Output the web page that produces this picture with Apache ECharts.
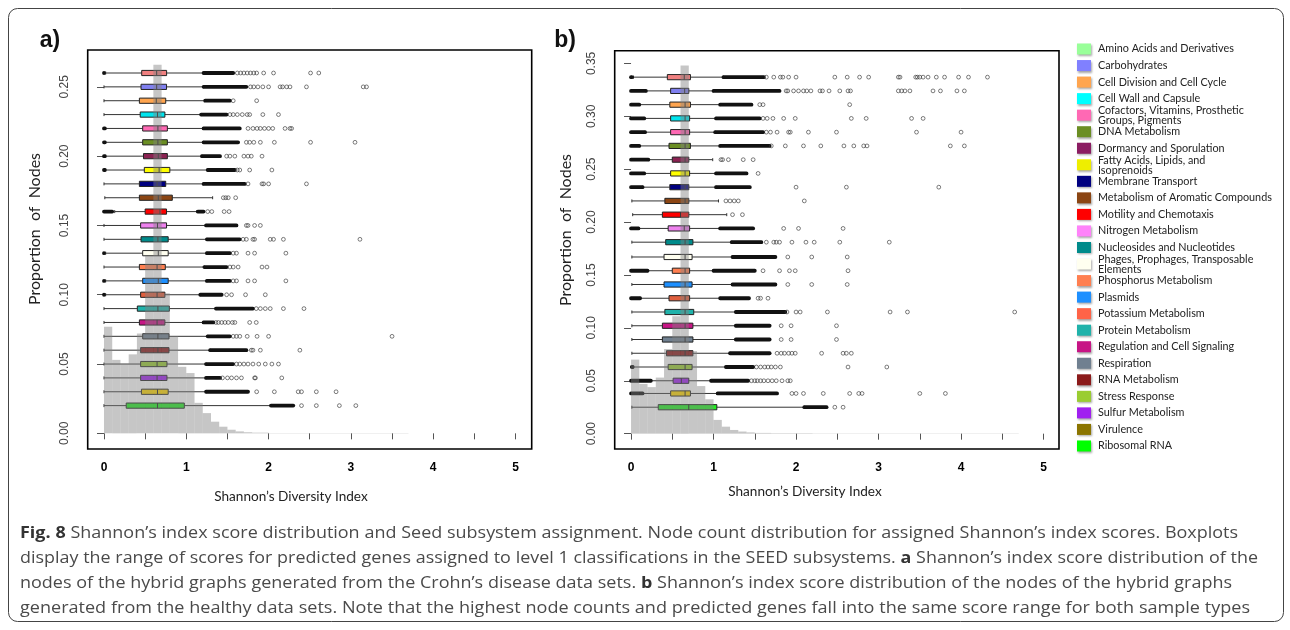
<!DOCTYPE html>
<html>
<head>
<meta charset="utf-8">
<script src="https://cdn.jsdelivr.net/npm/echarts@6/dist/echarts.min.js"></script>
<style>
  html, body { margin: 0; padding: 0; background: #fff; }
  #chart { width: 1290px; height: 630px; }
</style>
</head>
<body>
<div id="chart"></div>
<script>
// legend entries (SEED level 1 subsystems)
var categories = [
  'Amino Acids and Derivatives', 'Carbohydrates', 'Cell Division and Cell Cycle', 'Cell Wall and Capsule',
  'Cofactors, Vitamins, Prosthetic\nGroups, Pigments', 'DNA Metabolism', 'Dormancy and Sporulation',
  'Fatty Acids, Lipids, and\nIsoprenoids', 'Membrane Transport', 'Metabolism of Aromatic Compounds',
  'Motility and Chemotaxis', 'Nitrogen Metabolism', 'Nucleosides and Nucleotides',
  'Phages, Prophages, Transposable\nElements', 'Phosphorus Metabolism', 'Plasmids', 'Potassium Metabolism',
  'Protein Metabolism', 'Regulation and Cell Signaling', 'Respiration', 'RNA Metabolism', 'Stress Response',
  'Sulfur Metabolism', 'Virulence', 'Ribosomal RNA'
];
var legendColors = ['#99ff99', '#8080ff', '#ffa54f', '#00ffff', '#ff69b4', '#6b8e23', '#8b1c62', '#eeee00',
  '#000080', '#8b4513', '#ff0000', '#ff83fa', '#008b8b', '#fffff0', '#ff7f50', '#1e90ff', '#ff6347',
  '#20b2aa', '#c71585', '#708090', '#8b1a1a', '#9acd32', '#a020f0', '#8b7500', '#00ff00'];
var boxColors = ['#f08080', '#8080f0', '#ffa54f', '#00e5ee', '#ff69b4', '#6b8e23', '#8b2252', '#ffff00',
  '#000080', '#8b4513', '#ff0000', '#ee82ee', '#008b8b', '#fffff0', '#ff7f50', '#1e90ff', '#e0603f',
  '#20b2aa', '#c71585', '#708090', '#8b1a1a', '#9acd32', '#a020f0', '#ffd700', '#22ee22'];

var xTicks = [0, 0.5, 1, 1.5, 2, 2.5, 3, 3.5, 4, 4.5, 5];
var xLabels = [0, 1, 2, 3, 4, 5];
var yTicksA = [0, 0.05, 0.10, 0.15, 0.20, 0.25];
var yTicksB = [0, 0.05, 0.10, 0.15, 0.20, 0.25, 0.30, 0.35];

// ---- panel a (Crohn's disease) ----
var rowsA = [0.26, 0.25, 0.24, 0.23, 0.22, 0.21, 0.20, 0.19, 0.18, 0.17, 0.16, 0.15, 0.14,
  0.13, 0.12, 0.11, 0.10, 0.09, 0.08, 0.07, 0.06, 0.05, 0.04, 0.03, 0.02];
// [lower whisker, q1, median, q3, upper whisker]
var statsA = [
  [0.02, 0.458, 0.64, 0.761, 1.21], [0, 0.45, 0.64, 0.76, 1.21], [0, 0.43, 0.635, 0.75, 1.22],
  [0, 0.44, 0.65, 0.74, 1.18], [0.02, 0.47, 0.655, 0.77, 1.21], [0.02, 0.47, 0.655, 0.77, 1.21],
  [0.02, 0.48, 0.66, 0.77, 1.19], [0.02, 0.49, 0.67, 0.80, 1.26], [0, 0.43, 0.645, 0.75, 1.21],
  [0.01, 0.43, 0.66, 0.83, 1.32], [0.13, 0.50, 0.68, 0.76, 1.13], [0, 0.445, 0.65, 0.76, 1.24],
  [0, 0.45, 0.655, 0.78, 1.25], [0.02, 0.47, 0.66, 0.78, 1.25], [0, 0.43, 0.645, 0.745, 1.22],
  [0.02, 0.47, 0.66, 0.78, 1.25], [0.02, 0.445, 0.645, 0.74, 1.17], [0, 0.405, 0.655, 0.794, 1.36],
  [0, 0.43, 0.645, 0.74, 1.21], [0, 0.47, 0.655, 0.79, 1.26], [0, 0.445, 0.655, 0.79, 1.29],
  [0, 0.445, 0.645, 0.765, 1.24], [0, 0.445, 0.645, 0.765, 1.24], [0, 0.455, 0.65, 0.78, 1.24],
  [0, 0.27, 0.65, 0.976, 2.02]
];
// ranges packed with overlapping outlier circles
var denseA = [
  [[0, 0], [1.21, 1.57]], [[1.21, 1.73]], [[1.23, 1.53]], [[1.18, 1.49]], [[0, 0.01], [1.21, 1.65]],
  [[0, 0.01], [1.21, 1.63]], [[0, 0.01], [1.19, 1.41]], [[0, 0.01], [1.26, 1.59]], [[1.21, 1.71]],
  [], [[0, 0.1], [1.14, 1.21]], [[1.24, 1.61]], [[1.25, 1.65]], [[0, 0], [1.25, 1.53]],
  [[1.22, 1.49]], [[0, 0], [1.25, 1.53]], [[0, 0], [1.17, 1.43]], [[1.36, 1.81]], [[1.21, 1.33]],
  [[1.26, 1.53]], [[1.29, 1.73]], [[1.24, 1.57]], [[1.24, 1.41]], [[1.24, 1.75]], [[2.03, 2.3]]
];
var outA = [
  [1.62, 1.66, 1.70, 1.74, 1.78, 1.82, 1.855, 1.94, 2.06, 2.51, 2.61],
  [1.78, 1.82, 1.87, 1.93, 2.0, 2.14, 2.17, 2.22, 2.26, 2.46, 3.15, 3.19],
  [1.57, 1.855],
  [1.53, 1.57, 1.62, 1.68, 1.74, 1.77, 1.93, 2.12],
  [1.75, 1.81, 1.86, 1.9, 1.95, 2.0, 2.05, 2.2, 2.26, 2.28],
  [1.73, 1.77, 1.82, 1.9, 2.07, 2.51, 3.05],
  [1.49, 1.53, 1.59, 1.7, 1.75, 1.79, 1.92],
  [1.62, 1.65, 1.77, 2.04],
  [1.75, 1.92, 1.94, 2.0, 2.46],
  [1.45, 1.48, 1.51, 1.6],
  [1.26, 1.31, 1.46, 1.52],
  [1.73, 1.75, 1.83, 1.9],
  [1.69, 1.73, 1.81, 1.83, 2.02, 2.06, 2.18, 3.11],
  [1.57, 1.61, 1.75, 1.83, 2.21],
  [1.53, 1.57, 1.63, 1.92, 1.98],
  [1.57, 1.61, 1.75, 1.83, 2.21],
  [1.49, 1.55, 1.72, 1.96],
  [1.85, 1.9, 1.96, 2.02, 2.18, 2.43],
  [1.36, 1.39, 1.43, 1.47, 1.51, 1.56, 1.59, 1.77, 1.85],
  [1.57, 1.61, 1.65, 1.74, 1.86, 2.0, 3.5],
  [1.79, 1.81, 1.9, 2.38],
  [1.61, 1.65, 1.7, 1.75, 1.81, 1.88, 1.96, 2.04, 2.12],
  [1.44, 1.5, 1.55, 1.61, 1.67, 1.83, 1.84, 2.16],
  [1.855, 2.07, 2.36, 2.4, 2.58, 2.82],
  [2.4, 2.58, 2.86, 3.06]
];
// histogram bins [from, to, proportion]
var histA = [
  [0, 0.1, 0.077], [0.1, 0.2, 0.053], [0.2, 0.3, 0.050], [0.3, 0.4, 0.057], [0.4, 0.5, 0.072],
  [0.5, 0.6, 0.128], [0.6, 0.7, 0.266], [0.7, 0.8, 0.101], [0.8, 0.9, 0.070], [0.9, 1.0, 0.048],
  [1.0, 1.1, 0.0435], [1.1, 1.2, 0.022], [1.2, 1.3, 0.0146], [1.3, 1.4, 0.0084], [1.4, 1.5, 0.0048],
  [1.5, 1.6, 0.0026], [1.6, 1.7, 0.0014], [1.7, 1.8, 0.0008], [1.8, 2.0, 0.0005], [2.0, 2.5, 0.0003],
  [2.5, 3.7, 0.0002]
];

// ---- panel b (healthy) ----
var rowsB = [0.337, 0.324, 0.311, 0.298, 0.285, 0.272, 0.259, 0.246, 0.233, 0.220, 0.207, 0.194, 0.181,
  0.167, 0.154, 0.141, 0.128, 0.115, 0.102, 0.089, 0.076, 0.063, 0.050, 0.038, 0.025];
var statsB = [
  [0.03, 0.44, 0.645, 0.72, 1.12], [0.18, 0.48, 0.65, 0.70, 1.0], [0.1, 0.47, 0.655, 0.72, 1.08],
  [0.16, 0.48, 0.655, 0.71, 1.03], [0.17, 0.48, 0.655, 0.71, 1.02], [0.1, 0.46, 0.655, 0.72, 1.08],
  [0.21, 0.5, 0.655, 0.70, 0.99], [0.16, 0.48, 0.655, 0.71, 1.03], [0.14, 0.47, 0.655, 0.70, 1.03],
  [0.01, 0.41, 0.655, 0.70, 1.06], [0.02, 0.38, 0.60, 0.70, 1.16], [0.09, 0.45, 0.645, 0.71, 1.08],
  [0.01, 0.42, 0.655, 0.75, 1.22], [0.01, 0.40, 0.655, 0.74, 1.23], [0.2, 0.5, 0.655, 0.71, 1.0],
  [0.01, 0.40, 0.655, 0.74, 1.23], [0.11, 0.46, 0.655, 0.71, 1.08], [0.01, 0.41, 0.655, 0.76, 1.27],
  [0.01, 0.38, 0.655, 0.75, 1.27], [0.01, 0.38, 0.655, 0.75, 1.27], [0.01, 0.43, 0.655, 0.75, 1.2],
  [0.03, 0.45, 0.655, 0.74, 1.15], [0.24, 0.51, 0.61, 0.70, 0.97], [0.14, 0.48, 0.655, 0.72, 1.05],
  [0.01, 0.33, 0.70, 1.04, 2.1]
];
var denseB = [
  [[0, 0.01], [1.12, 1.61]], [[0, 0.18], [1.0, 1.8]], [[0, 0.1], [1.08, 1.46]], [[0, 0.16], [1.03, 1.56]],
  [[0, 0.17], [1.02, 1.6]], [[0, 0.1], [1.08, 1.68]], [[0, 0.21]], [[0, 0.16], [1.03, 1.4]],
  [[0, 0.14], [1.03, 1.44]], [], [], [[0, 0.09], [1.08, 1.48]], [[1.22, 1.58]], [[1.23, 1.75]],
  [[0, 0.2], [1.0, 1.5]], [[1.23, 1.75]], [[0, 0.11], [1.08, 1.43]], [[1.27, 1.87]], [[1.27, 1.68]],
  [[1.27, 1.68]], [[1.2, 1.68]], [[0.01, 0.02], [1.15, 1.48]], [[0, 0.24], [0.97, 1.42]],
  [[0, 0.14], [1.05, 1.77]], [[2.1, 2.37]]
];
var outB = [
  [1.64, 1.73, 1.81, 1.84, 1.91, 2.0, 2.47, 2.62, 2.77, 2.88, 3.24, 3.26, 3.45, 3.47, 3.5, 3.54, 3.6, 3.7, 3.8, 3.97, 4.09, 4.32],
  [1.88, 1.9, 1.97, 2.03, 2.09, 2.13, 2.18, 2.29, 2.32, 2.4, 2.53, 2.63, 2.66, 3.24, 3.28, 3.32, 3.38, 3.66, 3.75, 3.95, 4.04],
  [1.56, 1.6, 2.65],
  [1.6, 1.65, 1.72, 1.85, 1.99, 2.67, 2.85, 3.4, 3.54],
  [1.64, 1.69, 1.77, 1.91, 1.93, 2.15, 2.49, 3.46, 4.0],
  [1.7, 1.87, 2.09, 2.3, 2.58, 2.7, 2.82, 2.86, 3.87, 4.04],
  [1.09, 1.11, 1.18, 1.36, 1.48],
  [1.54],
  [2.0, 2.61, 3.73],
  [1.15, 1.2, 1.25, 1.3, 2.1],
  [1.23, 1.35],
  [1.85, 2.03, 2.57],
  [1.64, 1.73, 1.76, 1.8, 1.95, 2.12, 2.22, 2.53, 3.13],
  [1.9, 2.19, 2.62],
  [1.6, 1.8, 1.92, 1.99, 2.63],
  [1.9, 2.19, 2.62],
  [1.54, 1.57, 1.66],
  [1.89, 2.0, 2.05, 2.38, 3.14, 3.35, 4.65],
  [1.82, 1.94, 2.49],
  [1.82, 1.94, 2.49],
  [1.77, 1.82, 1.86, 1.91, 1.95, 1.99, 2.31, 2.57, 2.61, 2.67],
  [1.52, 1.57, 1.62, 1.66, 1.7, 1.75, 1.81, 2.63, 3.1],
  [1.46, 1.5, 1.53, 1.57, 1.61, 1.66, 1.71, 1.76, 1.83, 1.9, 1.93],
  [1.95, 2.0, 2.09, 2.33, 2.65, 2.76, 2.8, 3.5, 3.81],
  [2.47, 2.57]
];
var histB = [
  [0, 0.1, 0.070], [0.1, 0.2, 0.047], [0.2, 0.3, 0.044], [0.3, 0.4, 0.053], [0.4, 0.5, 0.080],
  [0.5, 0.6, 0.111], [0.6, 0.7, 0.348], [0.7, 0.8, 0.078], [0.8, 0.9, 0.045], [0.9, 1.0, 0.0325],
  [1.0, 1.1, 0.013], [1.1, 1.2, 0.0066], [1.2, 1.3, 0.0035], [1.3, 1.4, 0.002], [1.4, 1.5, 0.0012],
  [1.5, 1.7, 0.0007], [1.7, 2.2, 0.0004], [2.2, 4.7, 0.0002]
];

// caption, pieces wrapped in * are bold
var captionLines = [
  '*Fig. 8* Shannon\u2019s index score distribution and Seed subsystem assignment. Node count distribution for assigned Shannon\u2019s index scores. Boxplots',
  'display the range of scores for predicted genes assigned to level 1 classifications in the SEED subsystems. *a* Shannon\u2019s index score distribution of the',
  'nodes of the hybrid graphs generated from the Crohn\u2019s disease data sets. *b* Shannon\u2019s index score distribution of the nodes of the hybrid graphs',
  'generated from the healthy data sets. Note that the highest node counts and predicted genes fall into the same score range for both sample types'
];
var captionLineEnds = [1238, 1258, 1232, 1250];

var histFill = 'rgba(128,128,128,0.45)';

function renderHist(params, api) {
  var p0 = api.coord([api.value(0), api.value(2)]);
  var p1 = api.coord([api.value(1), 0]);
  return {
    type: 'rect',
    shape: { x: p0[0], y: p0[1], width: p1[0] - p0[0], height: p1[1] - p0[1] },
    style: { fill: histFill }
  };
}

function renderBox(params, api) {
  var y = api.value(0);
  var lo = api.coord([api.value(1), y]);
  var q1 = api.coord([api.value(2), y]);
  var md = api.coord([api.value(3), y]);
  var q3 = api.coord([api.value(4), y]);
  var hi = api.coord([api.value(5), y]);
  var h = 2.6;
  var wStyle = { stroke: '#333', lineWidth: 1 };
  return {
    type: 'group',
    children: [
      { type: 'line', shape: { x1: lo[0], y1: lo[1], x2: q1[0], y2: lo[1] }, style: wStyle },
      { type: 'line', shape: { x1: q3[0], y1: lo[1], x2: hi[0], y2: lo[1] }, style: wStyle },
      { type: 'line', shape: { x1: lo[0], y1: lo[1] - 1.5, x2: lo[0], y2: lo[1] + 1.5 }, style: wStyle },
      { type: 'line', shape: { x1: hi[0], y1: hi[1] - 1.5, x2: hi[0], y2: hi[1] + 1.5 }, style: wStyle },
      { type: 'rect', shape: { x: q1[0], y: q1[1] - h, width: q3[0] - q1[0], height: 2 * h },
        style: { fill: boxColors[params.dataIndex], stroke: '#222', lineWidth: 1 } },
      { type: 'line', shape: { x1: md[0], y1: md[1] - h, x2: md[0], y2: md[1] + h },
        style: { stroke: '#222', lineWidth: 1 } }
    ]
  };
}

function renderDense(params, api) {
  var a = api.coord([api.value(1), api.value(0)]);
  var b = api.coord([api.value(2), api.value(0)]);
  var r = 1.9;
  return {
    type: 'rect',
    shape: { x: a[0] - r, y: a[1] - r, width: b[0] - a[0] + 2 * r, height: 2 * r, r: r },
    style: { fill: '#111' }
  };
}

function flatDense(rows, dense) {
  var out = [];
  rows.forEach(function (y, i) {
    dense[i].forEach(function (d) { out.push([y, d[0], d[1]]); });
  });
  return out;
}
function flatOut(rows, pts) {
  var out = [];
  rows.forEach(function (y, i) {
    pts[i].forEach(function (x) { out.push([x, y]); });
  });
  return out;
}

function panelSeries(idx, rows, stats, dense, pts, hist) {
  return [
    {
      type: 'custom', xAxisIndex: idx, yAxisIndex: idx, z: 2,
      data: rows.map(function (y, i) { return [y].concat(stats[i]); }),
      renderItem: renderBox, silent: true
    },
    {
      type: 'custom', xAxisIndex: idx, yAxisIndex: idx, z: 3,
      data: flatDense(rows, dense), renderItem: renderDense, silent: true
    },
    {
      type: 'scatter', xAxisIndex: idx, yAxisIndex: idx, z: 3,
      symbol: 'circle', symbolSize: 3.8, silent: true,
      itemStyle: { color: 'rgba(0,0,0,0)', borderColor: '#333', borderWidth: 0.8 },
      data: flatOut(rows, pts)
    },
    {
      type: 'custom', xAxisIndex: idx, yAxisIndex: idx, z: 4,
      data: hist, renderItem: renderHist, silent: true
    }
  ];
}

function xAxisCfg(idx, max) {
  return {
    type: 'value', gridIndex: idx, min: -0.198, max: max,
    axisLine: { show: false }, splitLine: { show: false },
    axisTick: { show: true, length: 6, customValues: xTicks, lineStyle: { color: '#555', width: 1 } },
    axisLabel: {
      customValues: xLabels, margin: 13, color: '#000', fontWeight: 'bold', fontSize: 12,
      fontFamily: 'Liberation Sans'
    }
  };
}
function yAxisCfg(idx, min, max, ticks) {
  return {
    type: 'value', gridIndex: idx, min: min, max: max,
    axisLine: { show: false }, splitLine: { show: false },
    axisTick: { show: true, length: 7, customValues: ticks, lineStyle: { color: '#555', width: 1 } },
    axisLabel: {
      customValues: ticks, rotate: 90, margin: 17, color: '#444', fontSize: 12,
      fontFamily: 'Liberation Sans',
      formatter: function (v) { return v.toFixed(2); }
    }
  };
}

function txt(text, size, family, extra) {
  var s = { text: text, fontSize: size, fontFamily: family, fill: '#222', align: 'center', verticalAlign: 'middle' };
  for (var k in extra) s[k] = extra[k];
  return s;
}

var graphics = [
  { type: 'rect', shape: { x: 8.5, y: 8.5, width: 1275, height: 613, r: 9 },
    style: { fill: 'none', stroke: '#444', lineWidth: 1 }, z: -1 },
  { type: 'text', x: 50, y: 41, style: txt('a)', 23, 'Liberation Sans', { fontWeight: 'bold', fill: '#111' }) },
  { type: 'text', x: 565, y: 41, style: txt('b)', 23, 'Liberation Sans', { fontWeight: 'bold', fill: '#111' }) },
  { type: 'text', x: 35, y: 229, rotation: Math.PI / 2, style: txt('Proportion  of  Nodes', 16, 'Lato', {}) },
  { type: 'text', x: 566, y: 230, rotation: Math.PI / 2, style: txt('Proportion  of  Nodes', 16, 'Lato', {}) },
  { type: 'text', x: 291, y: 497, style: txt('Shannon\u2019s Diversity Index', 13.6, 'Lato', {}) },
  { type: 'text', x: 805, y: 492, style: txt('Shannon\u2019s Diversity Index', 13.6, 'Lato', {}) }
];

// legend drawn at right
categories.forEach(function (name, i) {
  var cy = 49 + i * 16.54;
  var twoLine = name.indexOf('\n') >= 0;
  graphics.push({
    type: 'rect', shape: { x: 1077, y: cy - 5.5, width: 14, height: 11 },
    style: { fill: legendColors[i], shadowBlur: 2, shadowOffsetX: 1, shadowOffsetY: 1.5, shadowColor: 'rgba(0,0,0,0.35)' }
  });
  graphics.push({
    type: 'text', x: 1098, y: twoLine ? cy - 9 : cy,
    style: txt(name, 10.8, 'Lato', { lineHeight: 9.5, align: 'left', verticalAlign: twoLine ? 'top' : 'middle' })
  });
});

// caption: words laid out one by one with normal spaces, glyphs widened a little
// so that each line ends where the printed one does
var capSize = 16;
var spaceW = 4.8;
var measureCtx = document.createElement('canvas').getContext('2d');
captionLines.forEach(function (line, i) {
  var words = [];
  line.split('*').forEach(function (piece, k) {
    piece.split(' ').forEach(function (w) {
      if (w) words.push({ t: w, bold: k % 2 === 1 });
    });
  });
  var total = 0;
  words.forEach(function (w) {
    measureCtx.font = (w.bold ? 'bold ' : '') + capSize + 'px "Open Sans"';
    w.w = measureCtx.measureText(w.t).width;
    total += w.w;
  });
  var sx = (captionLineEnds[i] - 20 - spaceW * (words.length - 1)) / total;
  sx = Math.max(0.9, Math.min(1.25, sx));
  var x = 20;
  words.forEach(function (w) {
    graphics.push({
      type: 'text', x: x, y: 533 + i * 25, scaleX: sx,
      style: txt(w.t, capSize, 'Open Sans', {
        fontWeight: w.bold ? 'bold' : 'normal', fill: w.bold ? '#333' : '#4a4a4a', align: 'left'
      })
    });
    x += w.w * sx + spaceW;
  });
});

var option = {
  animation: false,
  backgroundColor: '#fff',
  grid: [
    { left: 87.7, top: 50, width: 444, height: 399, show: true, borderColor: '#000', borderWidth: 1.6,
      backgroundColor: '#fff' },
    { left: 614.7, top: 50.7, width: 444.3, height: 398.3, show: true, borderColor: '#000', borderWidth: 1.6,
      backgroundColor: '#fff' }
  ],
  xAxis: [xAxisCfg(0, 5.197), xAxisCfg(1, 5.187)],
  yAxis: [yAxisCfg(0, -0.0113, 0.2766, yTicksA), yAxisCfg(1, -0.0145, 0.362, yTicksB)],
  series: panelSeries(0, rowsA, statsA, denseA, outA, histA)
    .concat(panelSeries(1, rowsB, statsB, denseB, outB, histB)),
  graphic: graphics
};

var myChart = echarts.init(document.getElementById('chart'));
myChart.setOption(option);
</script>
</body>
</html>
